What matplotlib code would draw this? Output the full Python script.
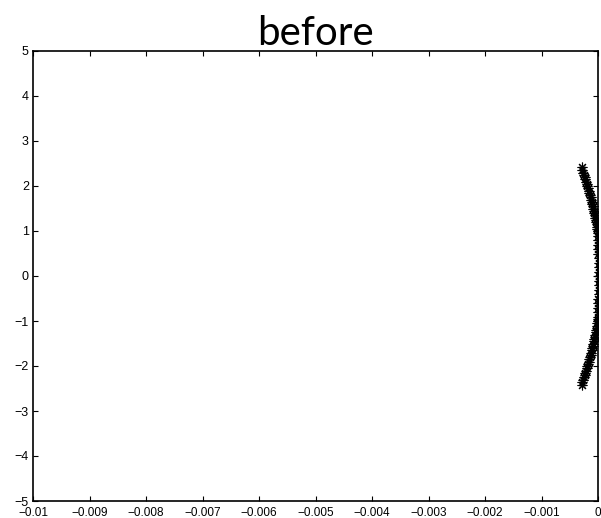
import numpy as np
import matplotlib.pyplot as plt

# upper branch (lower branch is its mirror image)
y_upper = [2.42, 2.35, 2.30, 2.25, 2.20, 2.15, 2.10, 2.05, 2.00, 1.95,
           1.90, 1.85, 1.80, 1.75, 1.70, 1.65, 1.60, 1.55, 1.50, 1.45,
           1.40, 1.35, 1.30, 1.25, 1.20, 1.15, 1.10, 1.05, 1.00, 0.95,
           0.90, 0.80, 0.70, 0.60, 0.50, 0.40, 0.30, 0.20, 0.10, 0.00]
x_upper = [-2.90, -2.75, -2.62, -2.50, -2.38, -2.25, -2.13, -2.00, -1.88, -1.76,
           -1.65, -1.54, -1.43, -1.32, -1.22, -1.12, -1.02, -0.92, -0.83, -0.74,
           -0.65, -0.56, -0.48, -0.40, -0.32, -0.25, -0.18, -0.10, -0.04, -0.02,
           0.00, 0.03, 0.05, 0.07, 0.08, 0.09, 0.10, 0.10, 0.11, 0.11]

x_vals = np.array(x_upper + x_upper[::-1]) * 1e-4
y_vals = np.array(y_upper + [-v for v in y_upper[::-1]])

xticks = [-0.01, -0.009, -0.008, -0.007, -0.006, -0.005, -0.004, -0.003, -0.002, -0.001, 0]
xlabels = ['\u22120.01', '\u22120.009', '\u22120.008', '\u22120.007', '\u22120.006',
           '\u22120.005', '\u22120.004', '\u22120.003', '\u22120.002', '\u22120.001', '0']
yticks = [-5, -4, -3, -2, -1, 0, 1, 2, 3, 4, 5]
ylabels = ['\u22125', '\u22124', '\u22123', '\u22122', '\u22121', '0', '1', '2', '3', '4', '5']

plt.rcParams['font.family'] = ['Liberation Sans', 'DejaVu Sans']

fig = plt.figure(figsize=(6.01, 5.18), dpi=100)
ax = fig.add_axes([33/601, 17/518, 565/601, 450/518])
ax.plot(x_vals, y_vals, linestyle='none', marker=(8, 2, 0), color='black',
        markersize=7, markeredgewidth=0.8)

ax.set_xlim(-0.01, 0)
ax.set_ylim(-5, 5)
ax.set_xticks(xticks)
ax.set_xticklabels(xlabels)
ax.set_yticks(yticks)
ax.set_yticklabels(ylabels)
ax.tick_params(direction='in', length=3.6, width=0.8, labelsize=9,
               top=True, right=True)
ax.tick_params(axis='x', pad=4, labelsize=8.5)
ax.tick_params(axis='y', pad=3)
for s in ax.spines.values():
    s.set_linewidth(1.2)

ax.set_title('before', fontsize=29, family=['Lato', 'DejaVu Sans'], pad=4)

fig.savefig('out.png', dpi=100)
